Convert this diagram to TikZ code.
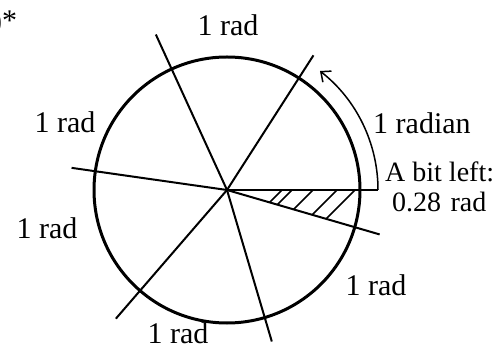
\documentclass[tikz,border=0pt]{standalone}
\usepackage{fontspec}
\setmainfont{Liberation Serif}
\usetikzlibrary{arrows.meta}
\begin{document}
\begin{tikzpicture}[x=1pt,y=1pt,
  lab/.style={font=\fontsize{30}{34}\selectfont, inner sep=0pt},
  labs/.style={font=\fontsize{28}{32}\selectfont, inner sep=0pt},
  ray/.style={line width=2pt},
  rim/.style={line width=3pt},
  hatchline/.style={line width=1.5pt}]
\useasboundingbox (0,0) rectangle (495,348);
\coordinate (O) at (227,158);
\draw[rim] (O) circle (133);
\coordinate (r0) at (378,158);
\path (O) ++(57.30:160) coordinate (r1);
\path (O) ++(114.59:171) coordinate (r2);
\path (O) ++(171.89:157) coordinate (r3);
\path (O) ++(229.18:170) coordinate (r4);
\path (O) ++(286.48:158) coordinate (r5);
\path (O) ++(343.77:159) coordinate (r6);
\foreach \i in {0,...,6} \draw[ray] (O) -- (r\i);
% hatching
\foreach \x/\t in {282/12.4, 292/14.65, 313/19.38, 337/24.8, 355/28.85}
  \draw[hatchline] (\x,158) -- ++(-\t,-\t);
% 1 radian arc arrow
\draw[line width=1.5pt, -{Straight Barb[length=8pt,width=14pt]}] (r0) arc[start angle=0,end angle=52,radius=151];
% labels
\node[lab] (l1) at (228,323) {1 rad};
\node[lab] (l2) at (65,226) {1 rad};
\node[lab] (l3) at (47,120) {1 rad};
\node[lab] (l4) at (178,15) {1 rad};
\node[lab] (l5) at (376,63) {1 rad};
\node[lab, anchor=west] (lr) at (373,225) {1 radian};
\node[labs, anchor=west] (lb) at (385,176) {A bit left:};
\node[labs, anchor=west] (lc) at (392,146) {0.28\,\,rad};
\node[lab, anchor=base west] (star) at (-8,317) {)*};
\end{tikzpicture}
\end{document}
